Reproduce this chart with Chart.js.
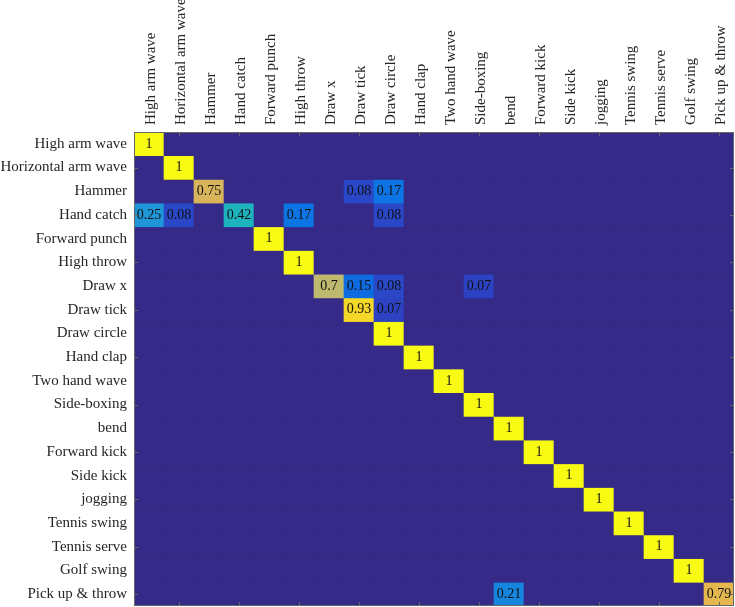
<!DOCTYPE html>
<html>
<head>
<meta charset="utf-8">
<script src="https://cdn.jsdelivr.net/npm/chart.js@4/dist/chart.umd.min.js"></script>
<style>
    body { margin: 0; background: #fff; }
    #wrap { width: 735px; height: 607px; }
</style>
</head>
<body>
<div id="wrap"><canvas id="cm" width="735" height="607"></canvas></div>
<script>
// class names (rows = true class, columns = predicted class)
const classes = [
    'High arm wave', 'Horizontal arm wave', 'Hammer', 'Hand catch', 'Forward punch',
    'High throw', 'Draw x', 'Draw tick', 'Draw circle', 'Hand clap',
    'Two hand wave', 'Side-boxing', 'bend', 'Forward kick', 'Side kick',
    'jogging', 'Tennis swing', 'Tennis serve', 'Golf swing', 'Pick up & throw'
];

// confusion matrix, one row per true class
const confusion = [
    [1, 0, 0, 0, 0, 0, 0, 0, 0, 0, 0, 0, 0, 0, 0, 0, 0, 0, 0, 0],
    [0, 1, 0, 0, 0, 0, 0, 0, 0, 0, 0, 0, 0, 0, 0, 0, 0, 0, 0, 0],
    [0, 0, 0.75, 0, 0, 0, 0, 0.08, 0.17, 0, 0, 0, 0, 0, 0, 0, 0, 0, 0, 0],
    [0.25, 0.08, 0, 0.42, 0, 0.17, 0, 0, 0.08, 0, 0, 0, 0, 0, 0, 0, 0, 0, 0, 0],
    [0, 0, 0, 0, 1, 0, 0, 0, 0, 0, 0, 0, 0, 0, 0, 0, 0, 0, 0, 0],
    [0, 0, 0, 0, 0, 1, 0, 0, 0, 0, 0, 0, 0, 0, 0, 0, 0, 0, 0, 0],
    [0, 0, 0, 0, 0, 0, 0.7, 0.15, 0.08, 0, 0, 0.07, 0, 0, 0, 0, 0, 0, 0, 0],
    [0, 0, 0, 0, 0, 0, 0, 0.93, 0.07, 0, 0, 0, 0, 0, 0, 0, 0, 0, 0, 0],
    [0, 0, 0, 0, 0, 0, 0, 0, 1, 0, 0, 0, 0, 0, 0, 0, 0, 0, 0, 0],
    [0, 0, 0, 0, 0, 0, 0, 0, 0, 1, 0, 0, 0, 0, 0, 0, 0, 0, 0, 0],
    [0, 0, 0, 0, 0, 0, 0, 0, 0, 0, 1, 0, 0, 0, 0, 0, 0, 0, 0, 0],
    [0, 0, 0, 0, 0, 0, 0, 0, 0, 0, 0, 1, 0, 0, 0, 0, 0, 0, 0, 0],
    [0, 0, 0, 0, 0, 0, 0, 0, 0, 0, 0, 0, 1, 0, 0, 0, 0, 0, 0, 0],
    [0, 0, 0, 0, 0, 0, 0, 0, 0, 0, 0, 0, 0, 1, 0, 0, 0, 0, 0, 0],
    [0, 0, 0, 0, 0, 0, 0, 0, 0, 0, 0, 0, 0, 0, 1, 0, 0, 0, 0, 0],
    [0, 0, 0, 0, 0, 0, 0, 0, 0, 0, 0, 0, 0, 0, 0, 1, 0, 0, 0, 0],
    [0, 0, 0, 0, 0, 0, 0, 0, 0, 0, 0, 0, 0, 0, 0, 0, 1, 0, 0, 0],
    [0, 0, 0, 0, 0, 0, 0, 0, 0, 0, 0, 0, 0, 0, 0, 0, 0, 1, 0, 0],
    [0, 0, 0, 0, 0, 0, 0, 0, 0, 0, 0, 0, 0, 0, 0, 0, 0, 0, 1, 0],
    [0, 0, 0, 0, 0, 0, 0, 0, 0, 0, 0, 0, 0.21, 0, 0, 0, 0, 0, 0, 0.79]
];

// colormap stops (parula-like, as it looks in the picture)
const cmapStops = [0, 0.075, 0.16, 0.25, 0.42, 0.7, 0.77, 0.93, 1];
const cmapColors = [
    [53, 42, 135], [44, 68, 198], [10, 112, 228], [30, 150, 215], [30, 180, 190],
    [190, 185, 110], [226, 180, 83], [245, 215, 40], [249, 250, 20]
];

function colorFor(v) {
    let i = 0;
    while (i < cmapStops.length - 2 && v > cmapStops[i + 1]) i++;
    const t = (v - cmapStops[i]) / (cmapStops[i + 1] - cmapStops[i]);
    const a = cmapColors[i], b = cmapColors[i + 1];
    const c = a.map((x, k) => Math.round(x + (b[k] - x) * Math.max(0, Math.min(1, t))));
    return `rgb(${c[0]},${c[1]},${c[2]})`;
}

const FONT = "'Liberation Serif', 'Times New Roman', serif";
const TEXT = '#262626';

// one floating-bar dataset per row
const datasets = confusion.map((row, r) => ({
    data: row.map(() => [r + 0.5, r + 1.5]),
    backgroundColor: row.map(v => colorFor(v)),
    borderWidth: 0,
    grouped: false,
    categoryPercentage: 1,
    barPercentage: 1
}));

// fill area under the cells, then box, inner ticks and cell values
const matrixDecor = {
    id: 'matrixDecor',
    beforeDatasetsDraw(chart) {
        const { ctx, chartArea: a } = chart;
        ctx.save();
        ctx.fillStyle = colorFor(0);
        ctx.fillRect(a.left, a.top, a.right - a.left, a.bottom - a.top);
        ctx.restore();
    },
    afterDatasetsDraw(chart) {
        const { ctx, chartArea: a, scales } = chart;
        ctx.save();
        // values
        ctx.font = `14px ${FONT}`;
        ctx.fillStyle = '#111';
        ctx.textAlign = 'center';
        ctx.textBaseline = 'middle';
        confusion.forEach((row, r) => {
            const meta = chart.getDatasetMeta(r);
            row.forEach((v, j) => {
                if (!v) return;
                const bar = meta.data[j];
                ctx.fillText(String(v), bar.x, (bar.y + bar.base) / 2);
            });
        });
        // box
        ctx.strokeStyle = '#666';
        ctx.lineWidth = 1;
        ctx.strokeRect(a.left + 0.5, a.top + 0.5, a.right - a.left - 1, a.bottom - a.top - 1);
        // inner ticks every second class
        const len = 4;
        ctx.beginPath();
        for (let k = 2; k <= classes.length; k += 2) {
            const x = Math.round(scales.x.getPixelForValue(k - 1)) + 0.5;
            ctx.moveTo(x, a.top); ctx.lineTo(x, a.top + len);
            ctx.moveTo(x, a.bottom); ctx.lineTo(x, a.bottom - len);
            const y = Math.round(scales.y.getPixelForValue(k)) + 0.5;
            ctx.moveTo(a.left, y); ctx.lineTo(a.left + len, y);
            ctx.moveTo(a.right, y); ctx.lineTo(a.right - len, y);
        }
        ctx.stroke();
        ctx.restore();
    }
};

new Chart(document.getElementById('cm'), {
    type: 'bar',
    data: { labels: classes, datasets: datasets },
    options: {
        responsive: false,
        animation: false,
        layout: { padding: { top: 0, right: 1, bottom: 1, left: 0 } },
        plugins: { legend: { display: false }, tooltip: { enabled: false } },
        scales: {
            x: {
                type: 'category',
                position: 'top',
                grid: { display: false, drawTicks: false },
                border: { display: false },
                ticks: {
                    autoSkip: false,
                    minRotation: 90,
                    maxRotation: 90,
                    padding: 7,
                    labelOffset: 20,
                    color: TEXT,
                    font: { family: FONT, size: 15 }
                },
                afterFit(scale) {
                    scale.height = 132;
                    scale.paddingLeft = 0;
                    scale.paddingRight = 0;
                }
            },
            y: {
                type: 'linear',
                reverse: true,
                min: 0.5,
                max: 20.5,
                grid: { display: false, drawTicks: false },
                border: { display: false },
                afterBuildTicks(scale) {
                    scale.ticks = classes.map((_, i) => ({ value: i + 1 }));
                },
                ticks: {
                    color: TEXT,
                    padding: 7,
                    font: { family: FONT, size: 15 },
                    callback: v => classes[v - 1]
                },
                afterFit(scale) {
                    scale.width = 134;
                    scale.paddingTop = 0;
                    scale.paddingBottom = 0;
                }
            }
        }
    },
    plugins: [matrixDecor]
});
</script>
</body>
</html>
